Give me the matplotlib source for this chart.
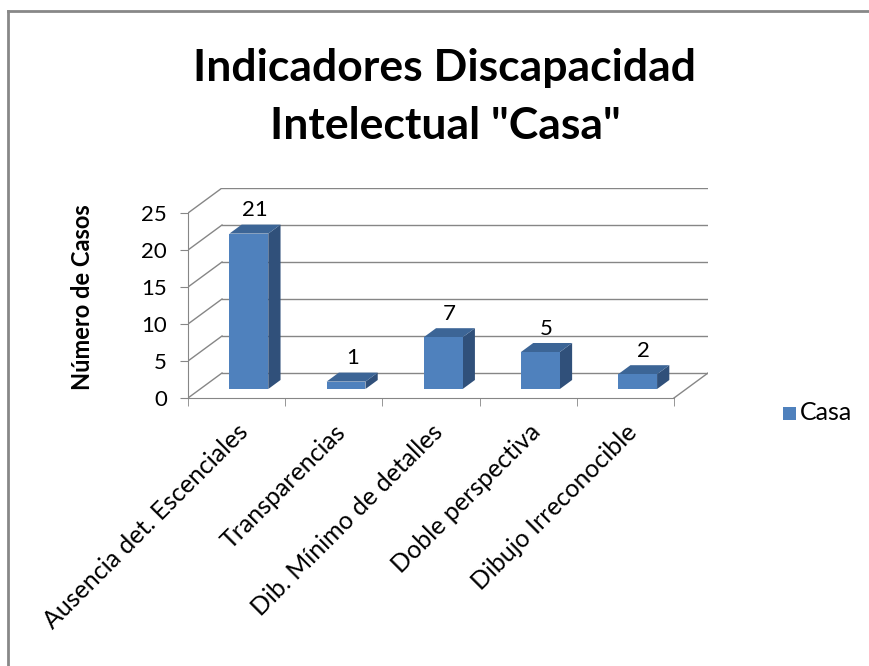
import numpy as np
import matplotlib
matplotlib.use('Agg')
import matplotlib.pyplot as plt
from matplotlib.patches import Polygon, Rectangle
from matplotlib.lines import Line2D

plt.rcParams['font.family'] = ['Lato', 'DejaVu Sans']

### Data ###
categories = ['Ausencia det. Escenciales', 'Transparencias',
              'Dib. Mínimo de detalles', 'Doble perspectiva',
              'Dibujo Irreconocible']
values = [21, 1, 7, 5, 2]
yticks = [0, 5, 10, 15, 20, 25]
series_name = 'Casa'
title = 'Indicadores Discapacidad\nIntelectual "Casa"'
ylabel = 'Número de Casos'

### Style ###
ymax = 25
ox, oy = 0.35, 3.38        # back wall offset (category units, value units)
d0, d1 = 0.36, 0.72        # bar depth (fraction of wall depth)
bar_w = 0.40
grid_c = '#868686'
front_c = '#4F81BD'
top_c = '#3C6596'
side_c = '#30507A'

fig = plt.figure(figsize=(8.7, 6.66), dpi=100)
W, H = 870, 666

# chart frame (only top/left visible)
fig.add_artist(Line2D([8 / W, 8 / W], [0, 1 - 11 / H], color='#888888', lw=2,
                      transform=fig.transFigure))
fig.add_artist(Line2D([8 / W, 1], [1 - 11 / H, 1 - 11 / H], color='#888888', lw=2,
                      transform=fig.transFigure))

ax = fig.add_axes([188 / W, 268 / H, 520 / W, 210 / H])
n = len(categories)
ax.set_xlim(0, n + ox)
ax.set_ylim(0, ymax + oy)

# walls
for v in yticks:
    ax.plot([0, ox], [v, v + oy], color=grid_c, lw=1, zorder=1)
    ax.plot([ox, n + ox], [v + oy, v + oy], color=grid_c, lw=1, zorder=1)
ax.plot([n, n + ox], [0, oy], color=grid_c, lw=1, zorder=1)

# bars
for i, v in enumerate(values):
    xl = i + 0.5 - bar_w / 2 + d0 * ox
    xr = xl + bar_w
    yb = d0 * oy
    dx = (d1 - d0) * ox
    dy = (d1 - d0) * oy
    ax.add_patch(Polygon([(xr, yb), (xr + dx, yb + dy), (xr + dx, yb + dy + v), (xr, yb + v)],
                         closed=True, fc=side_c, ec='none', zorder=3))
    ax.add_patch(Polygon([(xl, yb + v), (xr, yb + v), (xr + dx, yb + v + dy), (xl + dx, yb + v + dy)],
                         closed=True, fc=top_c, ec='none', zorder=3))
    ax.add_patch(Rectangle((xl, yb), bar_w, v, fc=front_c, ec='none', zorder=4))
    ax.annotate(str(v), (xl + bar_w / 2 + dx / 2, yb + v + dy), xytext=(0, 3),
                textcoords='offset points', ha='center', va='bottom', fontsize=16)

# axes
for s in ['top', 'right']:
    ax.spines[s].set_visible(False)
ax.spines['left'].set_bounds(0, ymax)
ax.spines['bottom'].set_bounds(0, n)
for s in ['left', 'bottom']:
    ax.spines[s].set_color(grid_c)
ax.set_yticks(yticks)
ax.set_yticklabels([str(t) for t in yticks], fontsize=16)
ax.set_xticks(np.arange(n + 1), minor=True)
ax.set_xticks(np.arange(n) + 0.5)
ax.set_xticklabels(categories, rotation=45, ha='right', rotation_mode='anchor', fontsize=18)
ax.tick_params(axis='x', which='major', length=0, pad=16)
ax.tick_params(axis='x', which='minor', length=6, color=grid_c)
ax.tick_params(axis='y', length=6, color=grid_c, pad=9)
ax.set_facecolor('none')

fig.text(83 / W, 1 - 297 / H, ylabel, rotation=90, ha='center', va='center',
         fontsize=17, fontweight='bold')
fig.text(445 / W, 1 - 97 / H, title, ha='center', va='center', fontsize=32,
         fontweight='bold', linespacing=1.52)

# legend
fig.patches.append(Rectangle((783 / W, 1 - 420 / H), 13 / W, 13 / H, fc=front_c, ec='none',
                             transform=fig.transFigure, figure=fig))
fig.text(800 / W, 1 - 413 / H, series_name, ha='left', va='center', fontsize=18)

fig.savefig('out.png', dpi=100)
